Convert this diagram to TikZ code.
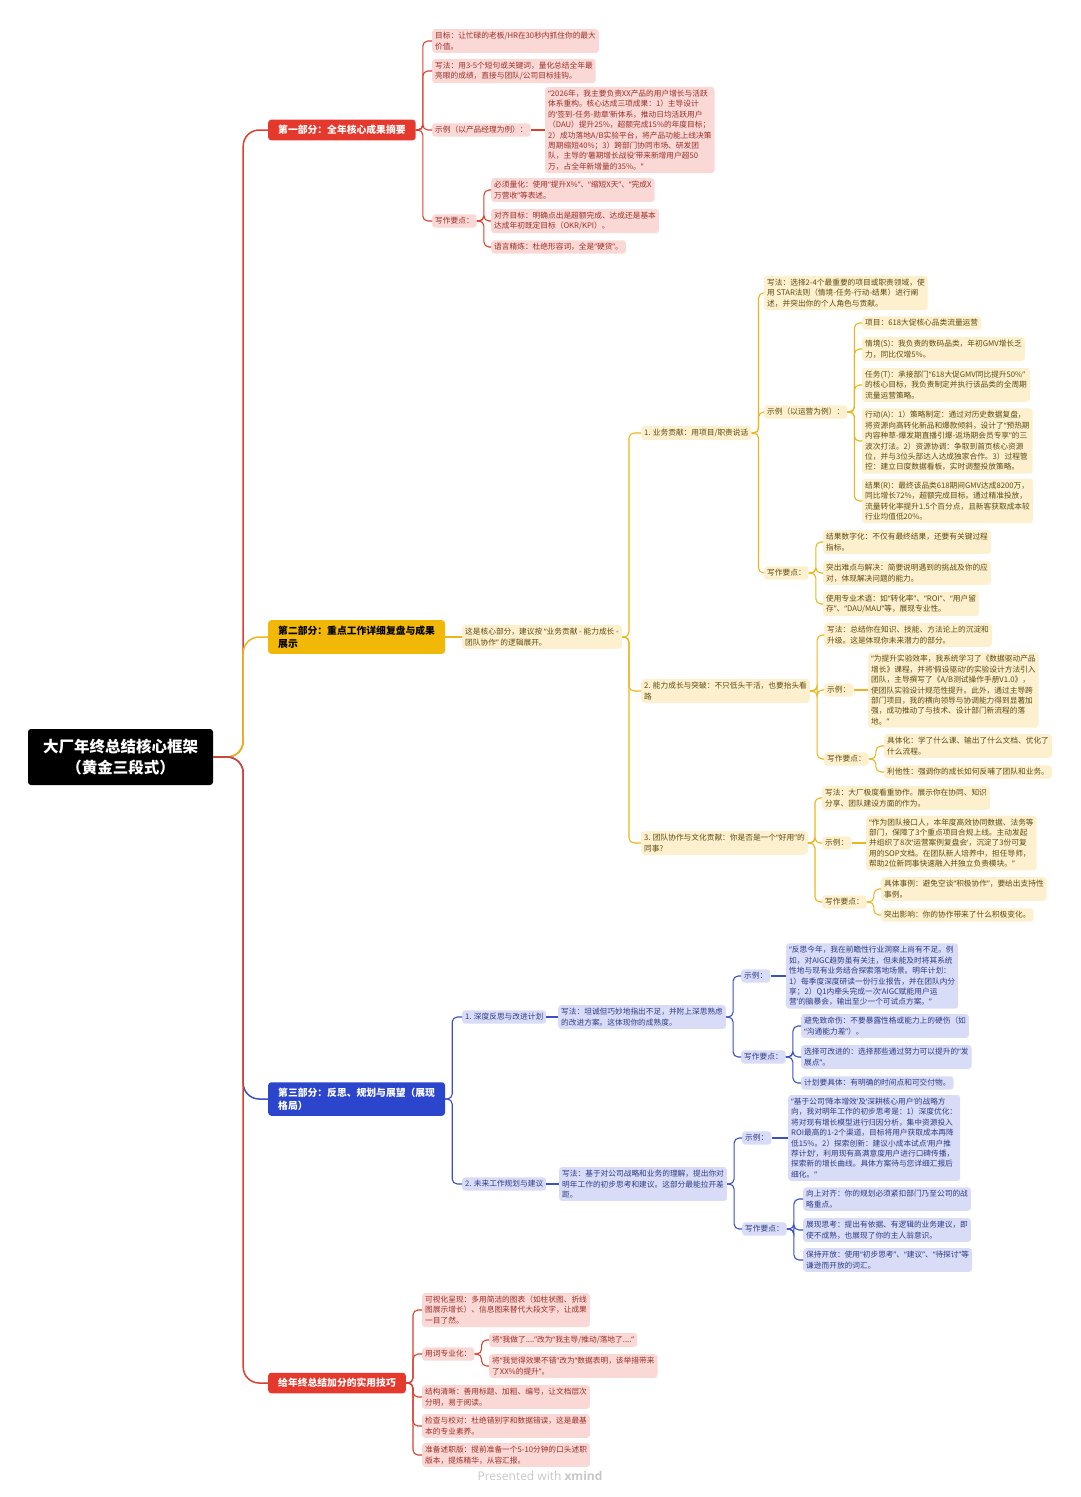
\documentclass[tikz,border=0pt]{standalone}
\usepackage{fontspec}
\setmainfont{Noto Sans CJK SC}
\newfontfamily\latinf{Open Sans}
\newfontfamily\qf{Noto Sans}
\newcommand\xqo{{\qf “}}
\newcommand\xqc{{\qf ”}}
\newcommand\xso{{\qf ‘}}
\newcommand\xsc{{\qf ’}}
\definecolor{redM}{HTML}{E5392D}
\definecolor{redL}{HTML}{FAD8D5}
\definecolor{redT}{HTML}{9A3028}
\definecolor{redLn}{HTML}{D9412F}
\definecolor{yelM}{HTML}{F2B807}
\definecolor{yelL}{HTML}{FDF0CE}
\definecolor{yelT}{HTML}{5E4A12}
\definecolor{yelLn}{HTML}{EDB51C}
\definecolor{bluM}{HTML}{2B45CC}
\definecolor{bluL}{HTML}{D8DCF6}
\definecolor{bluT}{HTML}{2F3C86}
\definecolor{bluLn}{HTML}{3A50C4}
\tikzset{
 base/.style={rounded corners=3pt, inner xsep=3pt, inner ysep=3pt, align=left, anchor=west, font=\fontsize{7.7}{10.4}\selectfont},
 rs/.style={base, fill=redL, text=redT},
 ys/.style={base, fill=yelL, text=yelT},
 bs/.style={base, fill=bluL, text=bluT},
 mainbox/.style={rounded corners=3pt, inner xsep=10pt, inner ysep=5.5pt, align=left, anchor=west, font=\fontsize{9.8}{13}\selectfont\bfseries},
 rl/.style={draw=redLn, line width=1.1pt, rounded corners=5pt},
 yl/.style={draw=yelLn, line width=1.1pt, rounded corners=5pt},
 bl/.style={draw=bluLn, line width=1.1pt, rounded corners=5pt},
}
\newcommand\chl[3]{\draw[#1] (#2.east) -- ++(7,0) |- (#3.west);}
\newcommand\stl[3]{\draw[#1] (#2.east) -- (#3.west);}
\begin{document}
\begin{tikzpicture}[x=1pt,y=-1pt]
\useasboundingbox (0,0) rectangle (1080,1497);
% root
\node[fill=black, text=white, rounded corners=3pt, minimum width=185pt, minimum height=56pt, align=center, font=\fontsize{15.5}{21}\selectfont\bfseries] (root) at (120.5,757) {大厂年终总结核心框架\\（黄金三段式）};
% main
\node[mainbox, fill=redM, text=white] (p1) at (268,130) {第一部分：全年核心成果摘要};
\node[mainbox, fill=yelM, text=black] (p2) at (268,637) {第二部分：重点工作详细复盘与成果\\展示};
\node[mainbox, fill=bluM, text=white] (p3) at (268,1099) {第三部分：反思、规划与展望（展现\\格局）};
\node[mainbox, fill=redM, text=white] (p4) at (268,1383) {给年终总结加分的实用技巧};
\draw[rl, line width=1.5pt, rounded corners=16pt] (root.east) -- ++(30,0) |- (p1.west);
\draw[yl, line width=1.5pt, rounded corners=16pt] (root.east) -- ++(30,0) |- (p2.west);
\draw[bl, line width=1.5pt, rounded corners=16pt] (root.east) -- ++(30,0) |- (p3.west);
\draw[rl, line width=1.5pt, rounded corners=16pt] (root.east) -- ++(30,0) |- (p4.west);
% ---------------- Part 1
\node[rs] (a1) at (432,41) {目标：让忙碌的老板/HR在30秒内抓住你的最大\\价值。};
\node[rs] (a2) at (432,71) {写法：用3-5个短句或关键词，量化总结全年最\\亮眼的成绩，直接与团队/公司目标挂钩。};
\node[rs] (a3) at (432,130) {示例（以产品经理为例）：};
\node[rs] (a3q) at (545,130) {\xqo 2026年，我主要负责XX产品的用户增长与活跃\\体系重构。核心达成三项成果：1）主导设计\\的\xso 签到-任务-勋章\xsc 新体系，推动日均活跃用户\\（DAU）提升25\%，超额完成15\%的年度目标；\\2）成功落地A/B实验平台，将产品功能上线决策\\周期缩短40\%；3）跨部门协同市场、研发团\\队，主导的\xso 暑期增长战役\xsc 带来新增用户超50\\万，占全年新增量的35\%。\xqc};
\node[rs] (a4) at (432,221) {写作要点：};
\node[rs] (a4a) at (491,190) {必须量化：使用\xqo 提升X\%\xqc 、\xqo 缩短X天\xqc 、\xqo 完成X\\万营收\xqc 等表述。};
\node[rs] (a4b) at (491,221) {对齐目标：明确点出是超额完成、达成还是基本\\达成年初既定目标（OKR/KPI）。};
\node[rs] (a4c) at (491,247) {语言精炼：杜绝形容词，全是\xqo 硬货\xqc 。};
\foreach \c in {a1,a2,a3,a4} {\chl{rl}{p1}{\c}}
\stl{rl}{a3}{a3q}
\foreach \c in {a4a,a4b,a4c} {\chl{rl}{a4}{\c}}
% ---------------- Part 2
\node[ys] (b0) at (462,637) {这是核心部分，建议按 \xqo 业务贡献 - 能力成长 -\\团队协作\xqc\ 的逻辑展开。};
\node[ys] (b1) at (641,433) {1. 业务贡献：用项目/职责说话};
\node[ys] (b2) at (641,691) {2. 能力成长与突破：不只低头干活，也要抬头看\\路};
\node[ys] (b3) at (641,843) {3. 团队协作与文化贡献：你是否是一个\xqo 好用\xqc 的\\同事?};
\stl{yl}{p2}{b0}
\foreach \c in {b1,b2,b3} {\chl{yl}{b0}{\c}}
\node[ys] (b1a) at (764,293) {写法：选择2-4个最重要的项目或职责领域，使\\用 STAR法则（情境-任务-行动-结果）进行阐\\述，并突出你的个人角色与贡献。};
\node[ys] (b1b) at (764,412) {示例（以运营为例）：};
\node[ys] (b1c) at (764,573) {写作要点：};
\foreach \c in {b1a,b1b,b1c} {\chl{yl}{b1}{\c}}
\node[ys] (b1b1) at (862,323) {项目：618大促核心品类流量运营};
\node[ys] (b1b2) at (862,349) {情境(S)：我负责的数码品类，年初GMV增长乏\\力，同比仅增5\%。};
\node[ys] (b1b3) at (862,385) {任务(T)：承接部门\xqo 618大促GMV同比提升50\%\xqc\\的核心目标，我负责制定并执行该品类的全周期\\流量运营策略。};
\node[ys] (b1b4) at (862,441) {行动(A)：1）策略制定：通过对历史数据复盘，\\将资源向高转化新品和爆款倾斜，设计了\xqo 预热期\\内容种草-爆发期直播引爆-返场期会员专享\xqc 的三\\波次打法。2）资源协调：争取到首页核心资源\\位，并与3位头部达人达成独家合作。3）过程管\\控：建立日度数据看板，实时调整投放策略。};
\node[ys] (b1b5) at (862,501) {结果(R)：最终该品类618期间GMV达成8200万，\\同比增长72\%，超额完成目标。通过精准投放，\\流量转化率提升1.5个百分点，且新客获取成本较\\行业均值低20\%。};
\foreach \c in {b1b1,b1b2,b1b3,b1b4,b1b5} {\chl{yl}{b1b}{\c}}
\node[ys] (b1c1) at (823,542) {结果数字化：不仅有最终结果，还要有关键过程\\指标。};
\node[ys] (b1c2) at (823,573) {突出难点与解决：简要说明遇到的挑战及你的应\\对，体现解决问题的能力。};
\node[ys] (b1c3) at (823,604) {使用专业术语：如\xqo 转化率\xqc 、\xqo ROI\xqc 、\xqo 用户留\\存\xqc 、\xqo DAU/MAU\xqc 等，展现专业性。};
\foreach \c in {b1c1,b1c2,b1c3} {\chl{yl}{b1c}{\c}}
\node[ys] (b2a) at (824,635) {写法：总结你在知识、技能、方法论上的沉淀和\\升级。这是体现你未来潜力的部分。};
\node[ys] (b2b) at (824,690) {示例：};
\node[ys] (b2bq) at (868,690) {\xqo 为提升实验效率，我系统学习了《数据驱动产品\\增长》课程，并将\xso 假设驱动\xsc 的实验设计方法引入\\团队，主导撰写了《A/B测试操作手册V1.0》，\\使团队实验设计规范性提升。此外，通过主导跨\\部门项目，我的横向领导与协调能力得到显著加\\强，成功推动了与技术、设计部门新流程的落\\地。\xqc};
\node[ys] (b2c) at (824,759) {写作要点：};
\node[ys] (b2c1) at (884,746) {具体化：学了什么课、输出了什么文档、优化了\\什么流程。};
\node[ys] (b2c2) at (884,772) {利他性：强调你的成长如何反哺了团队和业务。};
\foreach \c in {b2a,b2b,b2c} {\chl{yl}{b2}{\c}}
\stl{yl}{b2b}{b2bq}
\foreach \c in {b2c1,b2c2} {\chl{yl}{b2c}{\c}}
\node[ys] (b3a) at (822,798) {写法：大厂极度看重协作。展示你在协同、知识\\分享、团队建设方面的作为。};
\node[ys] (b3b) at (822,843) {示例：};
\node[ys] (b3bq) at (866,843) {\xqo 作为团队接口人，本年度高效协同数据、法务等\\部门，保障了3个重点项目合规上线。主动发起\\并组织了8次\xso 运营案例复盘会\xsc ，沉淀了3份可复\\用的SOP文档。在团队新人培养中，担任导师，\\帮助2位新同事快速融入并独立负责模块。\xqc};
\node[ys] (b3c) at (822,902) {写作要点：};
\node[ys] (b3c1) at (881,889) {具体事例：避免空谈\xqo 积极协作\xqc ，要给出支持性\\事例。};
\node[ys] (b3c2) at (881,915) {突出影响：你的协作带来了什么积极变化。};
\foreach \c in {b3a,b3b,b3c} {\chl{yl}{b3}{\c}}
\stl{yl}{b3b}{b3bq}
\foreach \c in {b3c1,b3c2} {\chl{yl}{b3c}{\c}}
% ---------------- Part 3
\node[bs] (c1) at (462,1017) {1. 深度反思与改进计划};
\node[bs] (c2) at (462,1184) {2. 未来工作规划与建议};
\foreach \c in {c1,c2} {\chl{bl}{p3}{\c}}
\node[bs] (c1a) at (558,1017) {写法：坦诚但巧妙地指出不足，并附上深思熟虑\\的改进方案。这体现你的成熟度。};
\stl{bl}{c1}{c1a}
\node[bs] (c1b) at (741,976) {示例：};
\node[bs] (c1bq) at (786,976) {\xqo 反思今年，我在前瞻性行业洞察上尚有不足。例\\如，对AIGC趋势虽有关注，但未能及时将其系统\\性地与现有业务结合探索落地场景。明年计划：\\1）每季度深度研读一份行业报告，并在团队内分\\享；2）Q1内牵头完成一次\xso AIGC赋能用户运\\营\xsc 的脑暴会，输出至少一个可试点方案。\xqc};
\node[bs] (c1c) at (741,1057) {写作要点：};
\node[bs] (c1c1) at (801,1026) {避免致命伤：不要暴露性格或能力上的硬伤（如\\\xqo 沟通能力差\xqc ）。};
\node[bs] (c1c2) at (801,1057) {选择可改进的：选择那些通过努力可以提升的\xqo 发\\展点\xqc 。};
\node[bs] (c1c3) at (801,1083) {计划要具体：有明确的时间点和可交付物。};
\foreach \c in {c1b,c1c} {\chl{bl}{c1a}{\c}}
\stl{bl}{c1b}{c1bq}
\foreach \c in {c1c1,c1c2,c1c3} {\chl{bl}{c1c}{\c}}
\node[bs] (c2a) at (559,1184) {写法：基于对公司战略和业务的理解，提出你对\\明年工作的初步思考和建议。这部分最能拉开差\\距。};
\stl{bl}{c2}{c2a}
\node[bs] (c2b) at (742,1138) {示例：};
\node[bs] (c2bq) at (788,1138) {\xqo 基于公司\xso 降本增效\xsc 及\xso 深耕核心用户\xsc 的战略方\\向，我对明年工作的初步思考是：1）深度优化：\\将对现有增长模型进行归因分析，集中资源投入\\ROI最高的1-2个渠道，目标将用户获取成本再降\\低15\%。2）探索创新：建议小成本试点\xso 用户推\\荐计划\xsc ，利用现有高满意度用户进行口碑传播，\\探索新的增长曲线。具体方案待与您详细汇报后\\细化。\xqc};
\node[bs] (c2c) at (742,1229) {写作要点：};
\node[bs] (c2c1) at (803,1199) {向上对齐：你的规划必须紧扣部门乃至公司的战\\略重点。};
\node[bs] (c2c2) at (803,1230) {展现思考：提出有依据、有逻辑的业务建议，即\\使不成熟，也展现了你的主人翁意识。};
\node[bs] (c2c3) at (803,1260) {保持开放：使用\xqo 初步思考\xqc 、\xqo 建议\xqc 、\xqo 待探讨\xqc 等\\谦逊而开放的词汇。};
\foreach \c in {c2b,c2c} {\chl{bl}{c2a}{\c}}
\stl{bl}{c2b}{c2bq}
\foreach \c in {c2c1,c2c2,c2c3} {\chl{bl}{c2c}{\c}}
% ---------------- Part 4
\node[rs] (d1) at (422,1310) {可视化呈现：多用简洁的图表（如柱状图、折线\\图展示增长）、信息图来替代大段文字，让成果\\一目了然。};
\node[rs] (d2) at (422,1354) {用词专业化：};
\node[rs] (d21) at (489,1340) {将\xqo 我做了....\xqc 改为\xqo 我主导/推动/落地了....\xqc};
\node[rs] (d22) at (489,1366) {将\xqo 我觉得效果不错\xqc 改为\xqo 数据表明，该举措带来\\了XX\%的提升\xqc 。};
\node[rs] (d3) at (422,1397) {结构清晰：善用标题、加粗、编号，让文档层次\\分明，易于阅读。};
\node[rs] (d4) at (422,1426) {检查与校对：杜绝错别字和数据错误，这是最基\\本的专业素养。};
\node[rs] (d5) at (422,1455) {准备述职版：提前准备一个5-10分钟的口头述职\\版本，提炼精华，从容汇报。};
\foreach \c in {d1,d2,d3,d4,d5} {\chl{rl}{p4}{\c}}
\foreach \c in {d21,d22} {\chl{rl}{d2}{\c}}
% footer
\node[text=black!22, font=\latinf\fontsize{12}{14}\selectfont] (foot) at (540,1476) {Presented with \textbf{xmind}};
\end{tikzpicture}
\end{document}
